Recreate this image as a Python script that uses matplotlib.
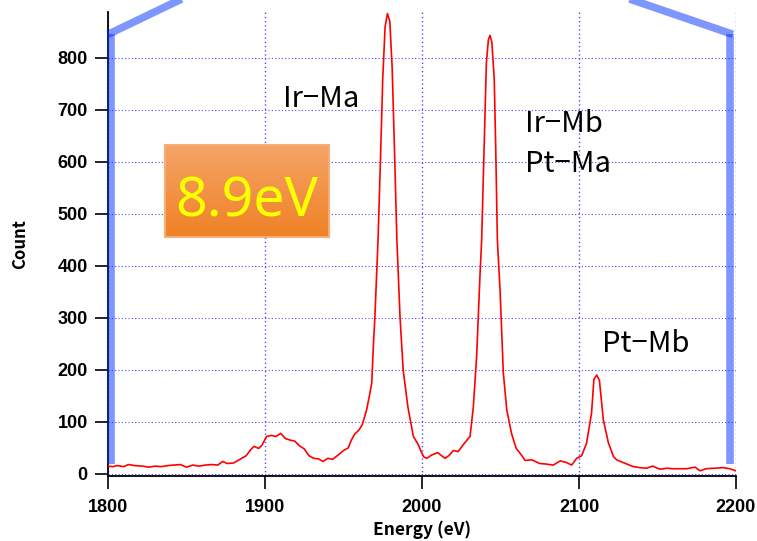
import numpy as np
import matplotlib
matplotlib.use("Agg")
import matplotlib.pyplot as plt
from matplotlib.colors import LinearSegmentedColormap

# spectrum
energy = [1800, 1803, 1806, 1810, 1813, 1817, 1822, 1826, 1830, 1834, 1838, 1842,
          1846, 1850, 1854, 1858, 1862, 1866, 1870, 1873, 1876, 1880, 1884, 1888,
          1891, 1893, 1896, 1898, 1901, 1904, 1907, 1910, 1913, 1916, 1919, 1922,
          1925, 1928, 1931, 1934, 1937, 1940, 1943, 1946, 1948, 1950, 1953, 1955,
          1957, 1960, 1962, 1964.7, 1966.5, 1968, 1969, 1970, 1972, 1973.5, 1975,
          1976.5, 1978, 1979.5, 1981, 1982.5, 1984, 1986, 1988, 1991, 1994.5, 1997.7,
          1999, 2001, 2003, 2006, 2010, 2014.6, 2017, 2020, 2023, 2027, 2030.6, 2032.7,
          2034.8, 2037, 2038, 2039.5, 2041, 2042.3, 2043.3, 2044.5, 2046, 2047, 2048,
          2049.7, 2051.8, 2054, 2057, 2060, 2063.4, 2065.6, 2070, 2075, 2079, 2083.6,
          2088, 2092, 2095.3, 2098.5, 2101.7, 2104.8, 2108, 2109.5, 2111.3, 2113, 2115.5,
          2118.7, 2122, 2124, 2128, 2134.6, 2139, 2143, 2147, 2151.6, 2156, 2160,
          2165, 2168.5, 2174, 2177, 2181, 2186, 2192, 2196, 2200]
counts = [15, 14, 16, 14, 18, 16, 15, 13, 15, 14, 16, 17,
          18, 13, 17, 15, 17, 18, 17, 24, 20, 21, 28, 35,
          47, 53, 49, 55, 72, 74, 72, 78, 68, 65, 63, 54,
          48, 35, 30, 29, 24, 30, 28, 35, 40, 45, 50, 65,
          76, 85, 95, 123, 150, 175, 245, 302, 450, 600, 760,
          860, 885, 870, 780, 620, 450, 302, 200, 129, 72, 56,
          46, 33, 30, 36, 41, 30, 35, 45, 43, 59, 72, 129,
          226, 386, 450, 620, 790, 835, 843, 830, 760, 620, 450,
          354, 194, 123, 78, 49, 36, 26, 27, 20, 19, 17,
          25, 22, 17, 30, 35, 59, 117, 182, 190, 180, 104,
          60, 33, 27, 22, 14, 12, 11, 15, 9, 11, 10,
          10, 10, 13, 6, 10, 11, 12, 10, 6]

peak_labels = ["Ir\u2212Ma", "Ir\u2212Mb", "Pt\u2212Ma", "Pt\u2212Mb"]
label_x = [1911.5, 2065.6, 2065.6, 2114.4]
label_y = [706, 658, 581, 235]

xticks = [1800, 1900, 2000, 2100, 2200]
yticks = [0, 100, 200, 300, 400, 500, 600, 700, 800]

fig = plt.figure(figsize=(7.57, 5.41), dpi=100)
ax = fig.add_axes([108 / 757, 1 - 476 / 541, 628 / 757, 464 / 541])

ax.plot(energy, counts, color="red", lw=1.2, zorder=3)

ax.set_xlim(1800, 2200)
ax.set_ylim(-4, 888)
ax.set_xticks(xticks)
ax.set_yticks(yticks)
ax.yaxis.grid(True, color="#4d4dff", linestyle=(0, (1, 2)), lw=0.8)
ax.xaxis.grid(True, color="#4d4dff", linestyle=(0, (1, 2)), lw=1.0)
for s in ["top", "right"]:
    ax.spines[s].set_visible(False)
for s in ["left", "bottom"]:
    ax.spines[s].set_linewidth(1.3)
ax.tick_params(direction="out", length=9.5, width=1.2, labelsize=13, pad=5)
ax.tick_params(axis="x", pad=7)
for lab in ax.get_xticklabels() + ax.get_yticklabels():
    lab.set_fontfamily("Liberation Sans")
    lab.set_fontweight("bold")

ax.set_xlabel("Energy (eV)", fontsize=12.5, fontweight="bold",
              family=["Noto Sans CJK JP", "DejaVu Sans"])
ax.xaxis.set_label_coords(0.5, -0.095)
ax.set_ylabel("Count", fontsize=12, fontweight="bold",
              family=["Noto Sans CJK JP", "DejaVu Sans"])
ax.yaxis.set_label_coords(-0.125, 0.5)

for t, x, y in zip(peak_labels, label_x, label_y):
    ax.text(x, y, t, fontsize=21, ha="left", va="baseline",
            family=["Noto Sans CJK JP", "DejaVu Sans"], zorder=4)

# blue bracket marking the energy window
blue = (0.0, 0.18, 1.0)
ax.plot([1802, 1802], [20, 845], color=blue, alpha=0.5, lw=5.5,
        solid_capstyle="butt", clip_on=False, zorder=5)
ax.plot([1800, 1900], [845, 990], color=blue, alpha=0.5, lw=5.5,
        solid_capstyle="butt", clip_on=False, zorder=5)
ax.plot([2196, 2196], [20, 845], color=blue, alpha=0.5, lw=5.5,
        solid_capstyle="butt", clip_on=False, zorder=5)
ax.plot([2198, 2050], [845, 998], color=blue, alpha=0.5, lw=5.5,
        solid_capstyle="butt", clip_on=False, zorder=5)

# orange box with resolution text
box = fig.add_axes([165 / 757, 1 - 237.3 / 541, 164 / 757, 92.3 / 541])
cmap = LinearSegmentedColormap.from_list("orng", ["#f5a468", "#ef8226"])
box.imshow(np.linspace(0, 1, 50).reshape(-1, 1), cmap=cmap, aspect="auto",
           extent=[0, 1, 0, 1], origin="upper")
box.set_xticks([])
box.set_yticks([])
for s in box.spines.values():
    s.set_color("#f6ad78")
    s.set_linewidth(1.5)
box.text(0.5, 0.22, "8.9eV", color="#ffff00", fontsize=40, ha="center",
         va="baseline", family="Noto Sans", transform=box.transAxes)

fig.savefig("out.png", dpi=100)
